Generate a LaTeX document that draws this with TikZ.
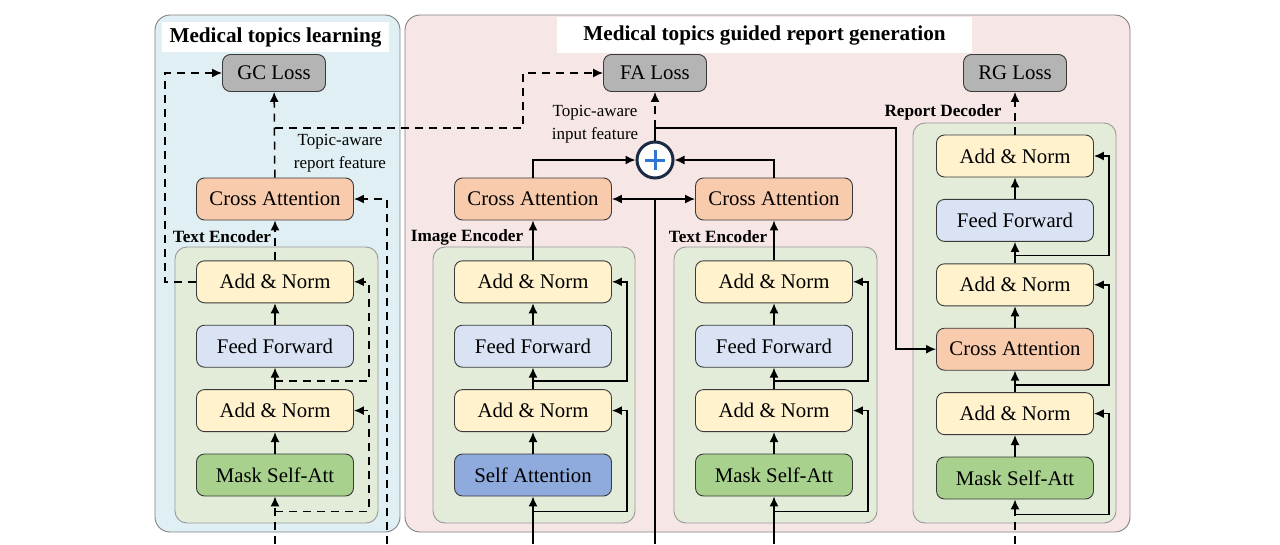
\documentclass[tikz,border=0pt]{standalone}
\usepackage{fontspec}
\setmainfont{Liberation Serif}
\usetikzlibrary{%
    arrows.meta,%
    positioning
    }
\definecolor{mydark}{HTML}{3A3A3A}
\definecolor{mycream}{HTML}{FFF2CC}
\definecolor{mylav}{HTML}{DAE3F3}
\definecolor{mysalmon}{HTML}{F8CBAD}
\definecolor{mygreen}{HTML}{A9D18E}
\definecolor{myblue}{HTML}{8FAADC}
\definecolor{mygray}{HTML}{B4B4B4}
\definecolor{mysage}{HTML}{E3EBD9}
\definecolor{mysky}{HTML}{E0EFF3}
\definecolor{mypink}{HTML}{F7E6E6}
\definecolor{mynavy}{HTML}{1C2B45}
\definecolor{myplus}{HTML}{2E75D6}
\tikzset{
  block1/.style={
    rectangle,
    rounded corners=8pt,
    draw=mydark,
    line width=0.9pt,
    minimum width=157pt,
    minimum height=42pt,
    align=center,
    font=\fontsize{20.8}{24}\selectfont,
  },
  addnorm1/.style={block1, fill=mycream},
  ffwd1/.style={block1, fill=mylav},
  cross1/.style={block1, fill=mysalmon},
  mask1/.style={block1, fill=mygreen},
  selfatt1/.style={block1, fill=myblue},
  loss1/.style={
    block1,
    fill=mygray,
    minimum width=103pt,
    minimum height=37pt,
  },
  plus1/.style={
    circle,
    minimum size=36pt,
    draw=mynavy,
    line width=3pt,
    fill=white,
  },
  title1/.style={
    fill=white,
    font=\bfseries\fontsize{21.2}{24}\selectfont,
  },
  label1/.style={
    inner sep=0pt,
    font=\bfseries\fontsize{17.2}{20}\selectfont,
  },
  note1/.style={
    align=center,
    inner sep=0pt,
    font=\fontsize{17}{23}\selectfont,
  },
  panel1/.style={
    rounded corners=15pt,
    draw=gray,
    line width=0.9pt,
  },
  enc1/.style={
    rounded corners=12pt,
    draw=gray!80,
    line width=0.9pt,
    fill=mysage,
  },
  line1/.style={line width=1.5pt, black},
  arrow1/.style={
    line1,
    -{Latex[length=10pt,width=9pt]},
  },
  darrow1/.style={
    arrow1,
    dash pattern=on 8pt off 6pt,
  },
}

\begin{document}
\begin{tikzpicture}[x=1pt,y=-1pt,node distance=21.5pt]
\useasboundingbox (0,0) rectangle (1280,544);

% panels and encoder frames
\draw[panel1,fill=mysky] (155,15) rectangle (400,532);
\draw[panel1,fill=mypink] (405,15) rectangle (1130,532);
\draw[enc1] (175,247) rectangle (378,523);
\draw[enc1] (433,247) rectangle (635,523);
\draw[enc1] (674,247) rectangle (877,523);
\draw[enc1] (913,123) rectangle (1116,523);

\node[title1,minimum width=227pt,minimum height=30pt]
  (ltitle) at (275.5,37)
  {Medical topics learning};
\node[title1,minimum width=415pt,minimum height=36pt]
  (rtitle) at (764.5,35)
  {Medical topics guided report generation};

% medical topics learning
\node[mask1] (lmask) at (275,475) {Mask Self-Att};
\node[addnorm1,above=of lmask] (lan1) {Add \& Norm};
\node[ffwd1,above=of lan1] (lff) {Feed Forward};
\node[addnorm1,above=of lff] (lan2) {Add \& Norm};
\node[cross1] (lca) at (275,199) {Cross Attention};
\node[loss1] (gcl) at (274,73) {GC Loss};
\node[label1] (ltxt) at (222,237) {Text Encoder};
\node[note1] (rfeat) at (340,153) {Topic-aware\\report feature};
\coordinate (lin) at (275,544);
\coordinate (ltop) at (387,544);

% image encoder and text encoder
\node[selfatt1] (isa) at (533,475) {Self Attention};
\node[addnorm1,above=of isa] (ian1) {Add \& Norm};
\node[ffwd1,above=of ian1] (iff) {Feed Forward};
\node[addnorm1,above=of iff] (ian2) {Add \& Norm};
\node[cross1] (ica) at (533,199) {Cross Attention};
\node[label1] (limg) at (467,237) {Image Encoder};

\node[mask1] (tmask) at (774,475) {Mask Self-Att};
\node[addnorm1,above=of tmask] (tan1) {Add \& Norm};
\node[ffwd1,above=of tan1] (tff) {Feed Forward};
\node[addnorm1,above=of tff] (tan2) {Add \& Norm};
\node[cross1] (tca) at (774,199) {Cross Attention};
\node[label1] (mtxt) at (718,237) {Text Encoder};

\node[plus1] (plus) at (655,160) {};
\node[loss1] (fal) at (655,73) {FA Loss};
\node[note1] (ifeat) at (595,124) {Topic-aware\\input feature};
\coordinate (iin) at (533,544);
\coordinate (tin) at (774,544);
\coordinate (vin) at (655,544);

% report decoder
\node[mask1] (dmask) at (1015,478) {Mask Self-Att};
\node[addnorm1,above=of dmask] (dan1) {Add \& Norm};
\node[cross1,above=of dan1] (dca) {Cross Attention};
\node[addnorm1,above=of dca] (dan2) {Add \& Norm};
\node[ffwd1,above=of dan2] (dff) {Feed Forward};
\node[addnorm1,above=of dff] (dan3) {Add \& Norm};
\node[loss1] (rgl) at (1015,73) {RG Loss};
\node[label1] (rdec) at (943,112) {Report Decoder};
\coordinate (din) at (1015,544);

\draw[line width=3pt,myplus]
  ([xshift=-10pt]plus.center) -- ([xshift=10pt]plus.center)
  ([yshift=-10pt]plus.center) -- ([yshift=10pt]plus.center);

% left connectors
\draw[darrow1] (lin) -- (lmask);
\draw[arrow1] (lmask) -- (lan1);
\draw[arrow1] (lan1) -- (lff);
\draw[arrow1] (lff) -- (lan2);
\draw[darrow1] ([yshift=-15pt]lmask.south) -| ([xshift=15pt]lan1.east) -- (lan1.east);
\draw[darrow1] ([yshift=8pt]lan1.north) -| ([xshift=15pt]lan2.east) -- (lan2.east);
\draw[darrow1] (lan2) -- (lca);
\draw[darrow1] (lca) -- (gcl);
\draw[darrow1] (lan2.west) -- ++(-31,0) |- (gcl.west);
\draw[darrow1] (ltop) |- (lca.east);
\coordinate (lsplit) at (lca.north |- 0,128);
\draw[darrow1] (lsplit) -| ([xshift=-80pt]fal.west) -- (fal.west);

% middle connectors
\begin{scope}[arrow1]
\draw (iin) -- (isa);
\draw (isa) -- (ian1);
\draw (ian1) -- (iff);
\draw (iff) -- (ian2);
\draw (ian2) -- (ica);
\draw ([yshift=-15pt]isa.south) -| ([xshift=15pt]ian1.east) -- (ian1.east);
\draw ([yshift=8pt]ian1.north) -| ([xshift=15pt]ian2.east) -- (ian2.east);
\draw (tin) -- (tmask);
\draw (tmask) -- (tan1);
\draw (tan1) -- (tff);
\draw (tff) -- (tan2);
\draw (tan2) -- (tca);
\draw ([yshift=-15pt]tmask.south) -| ([xshift=15pt]tan1.east) -- (tan1.east);
\draw ([yshift=8pt]tan1.north) -| ([xshift=15pt]tan2.east) -- (tan2.east);
\draw (ica.north) |- (plus.west);
\draw (tca.north) |- (plus.east);
\end{scope}
\coordinate (vmid) at (plus |- ica.east);
\draw[line1] (vin) -- (vmid);
\draw[arrow1] (vmid) -- (ica.east);
\draw[arrow1] (vmid) -- (tca.west);
\coordinate (psplit) at (plus.north |- 0,128);
\draw[line1] (plus.north) -- (psplit);
\draw[darrow1] (psplit) -- (fal.south);
\draw[arrow1] (psplit) -| ([xshift=-40pt]dca.west) -- (dca.west);

% decoder connectors
\draw[darrow1] (din) -- (dmask);
\begin{scope}[arrow1]
\draw (dmask) -- (dan1);
\draw (dan1) -- (dca);
\draw (dca) -- (dan2);
\draw (dan2) -- (dff);
\draw (dff) -- (dan3);
\draw ([yshift=-15pt]dmask.south) -| ([xshift=15pt]dan1.east) -- (dan1.east);
\draw ([yshift=7pt]dan1.north) -| ([xshift=15pt]dan2.east) -- (dan2.east);
\draw ([yshift=8pt]dan2.north) -| ([xshift=15pt]dan3.east) -- (dan3.east);
\end{scope}
\draw[darrow1] (dan3) -- (rgl);
\end{tikzpicture}
\end{document}
